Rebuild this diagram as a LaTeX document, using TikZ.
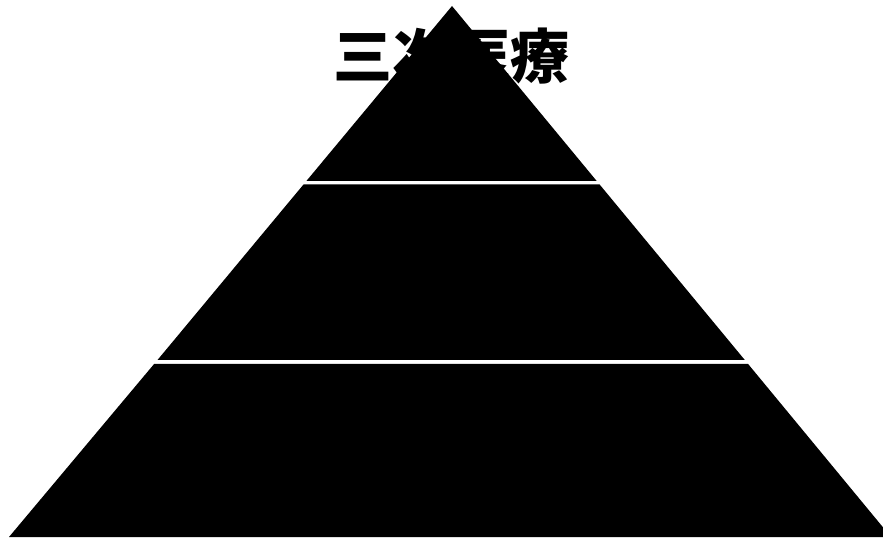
\documentclass[tikz,border=0pt]{standalone}
\usepackage{fontspec}
\newfontfamily\cjk{Noto Sans CJK JP}
\usepackage{tikz}

\begin{document}
\begin{tikzpicture}[x=0.03cm, y=-0.03cm, tier/.style={fill=black, draw=none}, title/.style={font=\cjk\bfseries\fontsize{50.5}{54}\selectfont, text=black, inner sep=0pt}]
	\useasboundingbox (0,0) rectangle (883,539);
	\clip (0,0) rectangle (883,539);
	\node[title] (head) at (451.5,56) {三次医療};
	\fill[tier] (452,6) -- (596.7,181) -- (306.4,181) -- cycle;
	\fill[tier] (303.5,184.5) -- (599.6,184.5) -- (744.8,360) -- (157.5,360) -- cycle;
	\fill[tier] (154.1,364) -- (748.1,364) -- (891,537) -- (9,537) -- cycle;
\end{tikzpicture}
\end{document}
